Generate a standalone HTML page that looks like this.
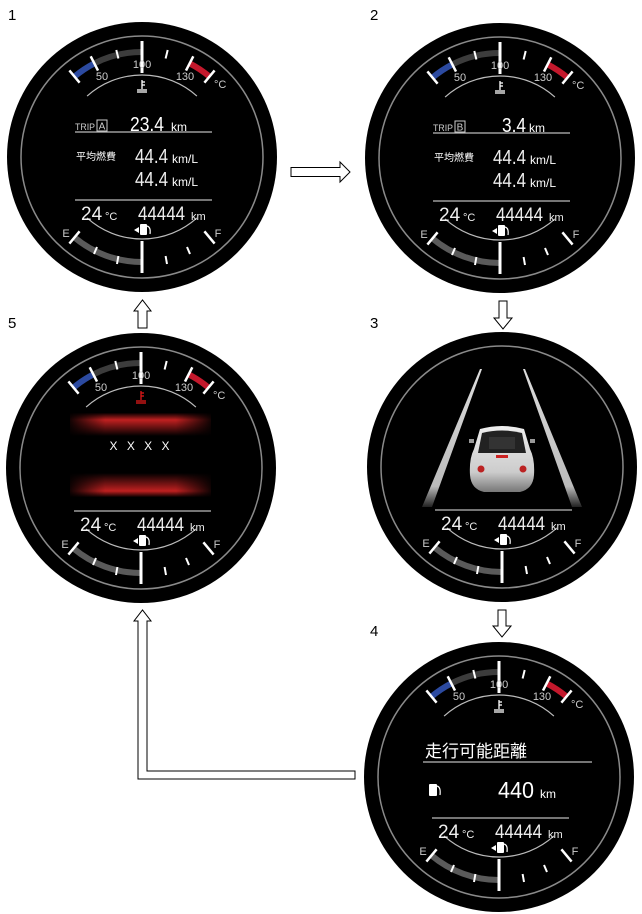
<!DOCTYPE html>
<html><head><meta charset="utf-8"><style>
html,body{margin:0;padding:0;background:#fff;}
svg{display:block;}
text{font-family:"Liberation Sans","Noto Sans CJK JP",sans-serif;}
</style></head><body>
<svg width="642" height="914" viewBox="0 0 642 914" xmlns="http://www.w3.org/2000/svg">
<defs>
<g id="frame">
<circle r="135" fill="#000"/>
<circle r="121" fill="none" stroke="#8a8a8a" stroke-width="1.5"/>
</g>
<g id="top">
<path d="M-67.5,-80.4 A105,105 0 0 1 -47.7,-93.6" fill="none" stroke="#2c4aa0" stroke-width="6"/>
<path d="M-47.7,-93.6 A105,105 0 0 1 0,-105" fill="none" stroke="#3c3c3c" stroke-width="6"/>
<path d="M47.7,-93.6 A105,105 0 0 1 67.5,-80.4" fill="none" stroke="#c3182c" stroke-width="6"/>
<g stroke="#fff" stroke-width="2.5">
<line x1="-62.4" y1="-74.3" x2="-72.6" y2="-86.6"/>
<line x1="-44" y1="-86.4" x2="-51.3" y2="-100.7"/>
<line x1="44" y1="-86.4" x2="51.3" y2="-100.7"/>
<line x1="62.4" y1="-74.3" x2="72.6" y2="-86.6"/>
<line x1="0" y1="-84" x2="0" y2="-116" stroke-width="3"/>
</g>
<g stroke="#fff" stroke-width="2">
<line x1="-23.6" y1="-98.5" x2="-25.7" y2="-107"/>
<line x1="23.6" y1="-98.5" x2="25.7" y2="-107"/>
</g>
<path d="M-54.9,-60.9 A82,82 0 0 1 54.9,-60.9" fill="none" stroke="#bbb" stroke-width="1.2"/>
<text x="-40" y="-77" fill="#ccc" font-size="11" text-anchor="middle">50</text>
<text x="0" y="-89" fill="#ccc" font-size="11" text-anchor="middle">100</text>
<text x="43" y="-77" fill="#ccc" font-size="11" text-anchor="middle">130</text>
<text x="72" y="-69" fill="#ccc" font-size="11">°C</text>
</g>
<g id="cool">
<g stroke-width="1.3" fill="none">
<line x1="0" y1="-77" x2="0" y2="-68"/>
<line x1="0" y1="-75" x2="3" y2="-75"/>
<line x1="0" y1="-72" x2="3" y2="-72"/>
<line x1="-5" y1="-67" x2="5" y2="-67"/>
<line x1="-5" y1="-65" x2="5" y2="-65"/>
</g>
</g>
<g id="bottom">
<path d="M-54.9,60.9 A82,82 0 0 0 54.9,60.9" fill="none" stroke="#bbb" stroke-width="1.2"/>
<path d="M-67.5,80.4 A105,105 0 0 0 0,105" fill="none" stroke="#5a5a5a" stroke-width="6"/>
<g stroke="#fff" stroke-width="2.5">
<line x1="-62.4" y1="74.3" x2="-72.6" y2="86.6"/>
<line x1="62.4" y1="74.3" x2="72.6" y2="86.6"/>
<line x1="0" y1="84" x2="0" y2="116" stroke-width="3"/>
</g>
<g stroke="#fff" stroke-width="2">
<line x1="-45" y1="90" x2="-48" y2="97"/>
<line x1="-23.6" y1="99" x2="-25" y2="107"/>
<line x1="45" y1="90" x2="48" y2="97"/>
<line x1="23.6" y1="99" x2="25" y2="107"/>
</g>
<text x="-76" y="80" fill="#ccc" font-size="11" text-anchor="middle">E</text>
<text x="76" y="80" fill="#ccc" font-size="11" text-anchor="middle">F</text>
<path d="M-8,73 l5,-3 v6z" fill="#fff"/>
<rect x="-2" y="67" width="7" height="11" fill="#fff" rx="1"/>
<path d="M5,69 q4,1 3,8" fill="none" stroke="#fff" stroke-width="1.2"/>
<line x1="-67" y1="43" x2="70" y2="43" stroke="#bbb" stroke-width="1.3"/>
<text x="-61" y="63" fill="#eee" font-size="19">24</text>
<text x="-37" y="63" fill="#eee" font-size="11">°C</text>
<text x="-4" y="63" fill="#eee" font-size="19" textLength="47" lengthAdjust="spacingAndGlyphs">44444</text>
<text x="49" y="63" fill="#eee" font-size="11">km</text>
</g>
<linearGradient id="carg" x1="0" y1="0" x2="0" y2="1"><stop offset="0" stop-color="#eee"/><stop offset="0.7" stop-color="#ccc"/><stop offset="1" stop-color="#777"/></linearGradient>
<linearGradient id="lane" x1="0" y1="0" x2="0" y2="1"><stop offset="0" stop-color="#ddd"/><stop offset="0.85" stop-color="#bbb"/><stop offset="1" stop-color="#222"/></linearGradient>
<linearGradient id="rtop" x1="0" y1="0" x2="0" y2="1"><stop offset="0" stop-color="#0a0000"/><stop offset="0.3" stop-color="#c02020"/><stop offset="1" stop-color="#000"/></linearGradient>
<linearGradient id="rbot" x1="0" y1="0" x2="0" y2="1"><stop offset="0" stop-color="#000"/><stop offset="0.75" stop-color="#c02020"/><stop offset="1" stop-color="#0a0000"/></linearGradient>
<linearGradient id="hfade" x1="0" y1="0" x2="1" y2="0"><stop offset="0" stop-color="#000" stop-opacity="0.9"/><stop offset="0.25" stop-color="#000" stop-opacity="0"/><stop offset="0.75" stop-color="#000" stop-opacity="0"/><stop offset="1" stop-color="#000" stop-opacity="0.9"/></linearGradient>
</defs>

<g fill="#000">
<text x="8" y="20" style="font-size:15px">1</text>
<text x="370" y="20" style="font-size:15px">2</text>
<text x="370" y="328" style="font-size:15px">3</text>
<text x="370" y="636" style="font-size:15px">4</text>
<text x="8" y="328" style="font-size:15px">5</text>
</g>

<g fill="#fff" stroke="#000" stroke-width="1">
<path d="M291,167.5 H340 V162 L350,172 L340,182 V176.5 H291 Z"/>
<path d="M499,301 V318 H494 L503,329 L512,318 H507 V301 Z"/>
<path d="M498,610 V626 H493 L502,637 L511,626 H506 V610 Z"/>
<path d="M138,328 V311 H134 L142.5,300 L151,311 H147 V328 Z"/>
<path d="M355,779 H138 V621 H134 L142.5,610 L151,621 H147 V771 H355 Z"/>
</g>

<!-- gauge 1 -->
<g transform="translate(142,157)">
<use href="#frame"/><use href="#top"/><use href="#cool" stroke="#fff"/><use href="#bottom"/>
<text x="-67" y="-27" fill="#ccc" font-size="9.5" textLength="20" lengthAdjust="spacingAndGlyphs">TRIP</text>
<rect x="-45" y="-37" width="10" height="11" fill="none" stroke="#ccc" stroke-width="1"/>
<text x="-40" y="-27.5" fill="#ccc" font-size="10" text-anchor="middle">A</text>
<text x="-12" y="-26" fill="#fff" font-size="20" textLength="34" lengthAdjust="spacingAndGlyphs">23.4</text>
<text x="29" y="-26" fill="#fff" font-size="12">km</text>
<line x1="-67" y1="-25" x2="70" y2="-25" stroke="#bbb" stroke-width="1.3"/>
<text x="-66" y="3" fill="#fff" font-size="10">平均燃費</text>
<text x="-7" y="6" fill="#eee" font-size="20" textLength="33" lengthAdjust="spacingAndGlyphs">44.4</text>
<text x="30" y="6" fill="#fff" font-size="12">km/L</text>
<text x="-7" y="29" fill="#eee" font-size="20" textLength="33" lengthAdjust="spacingAndGlyphs">44.4</text>
<text x="30" y="29" fill="#fff" font-size="12">km/L</text>
</g>

<!-- gauge 2 -->
<g transform="translate(500,158)">
<use href="#frame"/><use href="#top"/><use href="#cool" stroke="#fff"/><use href="#bottom"/>
<text x="-67" y="-27" fill="#ccc" font-size="9.5" textLength="20" lengthAdjust="spacingAndGlyphs">TRIP</text>
<rect x="-45" y="-37" width="10" height="11" fill="none" stroke="#ccc" stroke-width="1"/>
<text x="-40" y="-27.5" fill="#ccc" font-size="10" text-anchor="middle">B</text>
<text x="2" y="-26" fill="#fff" font-size="20" textLength="24" lengthAdjust="spacingAndGlyphs">3.4</text>
<text x="29" y="-26" fill="#fff" font-size="12">km</text>
<line x1="-67" y1="-25" x2="70" y2="-25" stroke="#bbb" stroke-width="1.3"/>
<text x="-66" y="3" fill="#fff" font-size="10">平均燃費</text>
<text x="-7" y="6" fill="#eee" font-size="20" textLength="33" lengthAdjust="spacingAndGlyphs">44.4</text>
<text x="30" y="6" fill="#fff" font-size="12">km/L</text>
<text x="-7" y="29" fill="#eee" font-size="20" textLength="33" lengthAdjust="spacingAndGlyphs">44.4</text>
<text x="30" y="29" fill="#fff" font-size="12">km/L</text>
</g>

<!-- gauge 3 -->
<g transform="translate(502,467)">
<use href="#frame"/><use href="#bottom"/>
<path d="M-22,-98 L-20,-98 L-70,40 L-80,40 Z" fill="url(#lane)"/>
<path d="M21,-98 L23,-98 L80,40 L70,40 Z" fill="url(#lane)"/>
<path d="M-22,-38 Q0,-44 22,-38 L28,-18 Q33,-8 32,8 Q31,22 18,25 L-18,25 Q-31,22 -32,8 Q-33,-8 -28,-18 Z" fill="url(#carg)"/>
<path d="M-20,-34 Q0,-39 20,-34 L24,-14 L-24,-14 Z" fill="#222"/>
<rect x="-13" y="-30" width="26" height="12" fill="#333"/>
<rect x="-6" y="-12" width="12" height="3" fill="#c22"/>
<circle cx="-21" cy="2" r="3.5" fill="#b22"/><circle cx="21" cy="2" r="3.5" fill="#b22"/>
<rect x="-33" y="-28" width="5" height="4" fill="#999"/><rect x="28" y="-28" width="5" height="4" fill="#999"/>
</g>

<!-- gauge 4 -->
<g transform="translate(499,777)">
<use href="#frame"/><use href="#top"/><use href="#cool" stroke="#fff"/>
<g transform="translate(0,-2)"><use href="#bottom"/></g>
<text x="-74" y="-20" fill="#fff" font-size="17">走行可能距離</text>
<line x1="-76" y1="-15" x2="93" y2="-15" stroke="#bbb" stroke-width="1.3"/>
<rect x="-70" y="7" width="8" height="12" rx="1" fill="#fff"/>
<path d="M-62,9 q4,1 3,9" fill="none" stroke="#fff" stroke-width="1.2"/>
<text x="-1" y="21" fill="#fff" font-size="23" textLength="36" lengthAdjust="spacingAndGlyphs">440</text>
<text x="41" y="21" fill="#fff" font-size="12">km</text>
</g>

<!-- gauge 5 -->
<g transform="translate(141,468)">
<use href="#frame"/><use href="#top"/><use href="#cool" stroke="#e01818"/><use href="#bottom"/>
<rect x="-71" y="-55" width="141" height="23" fill="url(#rtop)"/>
<rect x="-71" y="-55" width="141" height="23" fill="url(#hfade)"/>
<rect x="-71" y="5" width="141" height="24" fill="url(#rbot)"/>
<rect x="-71" y="5" width="141" height="24" fill="url(#hfade)"/>
<text x="0" y="-18" fill="#fff" font-size="12" text-anchor="middle" letter-spacing="3">X X X X</text>
</g>
</svg>
</body></html>
